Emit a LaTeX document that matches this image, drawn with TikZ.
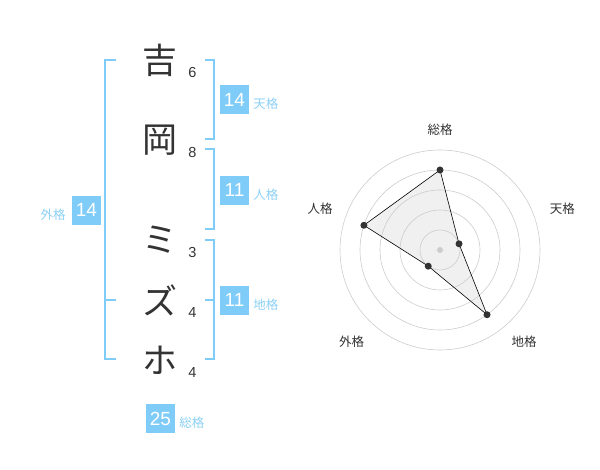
\documentclass[tikz,border=0pt]{standalone}
\usepackage{fontspec}
\setmainfont{Liberation Sans}
\newfontfamily\jfont{Noto Sans CJK JP}
\usetikzlibrary{positioning}
\definecolor{skyblue}{HTML}{80CCF8}
\definecolor{labelblue}{HTML}{8CD0F5}
\definecolor{inkgray}{HTML}{333333}
\definecolor{ringgray}{HTML}{CCCCCC}
\tikzset{
  kanji/.style={font=\jfont\fontsize{35}{35}\selectfont, text=inkgray, inner sep=0pt},
  strokes/.style={font=\fontsize{14.5}{14.5}\selectfont, text=inkgray, inner sep=0pt},
  bracket/.style={draw=skyblue, line width=2pt},
  kakubox/.style={fill=skyblue, text=white, minimum width=29pt, minimum height=29pt, inner sep=0pt, font=\fontsize{19}{19}\selectfont},
  kakulabel/.style={font=\jfont\fontsize{12.5}{12.5}\selectfont, text=labelblue, inner sep=0pt},
  axislabel/.style={font=\jfont\fontsize{12.5}{12.5}\selectfont, text=inkgray, inner sep=0pt},
  ring/.style={draw=ringgray, line width=0.6pt},
  vertex/.style={circle, fill=inkgray, inner sep=0pt, minimum size=7pt},
}
\begin{document}
\begin{tikzpicture}[x=1pt,y=1pt]
  \useasboundingbox (0,0) rectangle (600,470);
  % name and strokes
  \node (kichi) at (160,410) [kanji] {吉};
  \node (oka) at (160,329.5) [kanji] {岡};
  \node (mi) at (160,230) [kanji] {ミ};
  \node (zu) at (160,170) [kanji] {ズ};
  \node (ho) at (160,110) [kanji] {ホ};
  \node (kichi-n) at (192.3,397.7) [strokes] {6};
  \node (oka-n) at (192.3,317.3) [strokes] {8};
  \node (mi-n) at (192.3,217.7) [strokes] {3};
  \node (zu-n) at (192.3,157.7) [strokes] {4};
  \node (ho-n) at (192.3,97.7) [strokes] {4};
  % brackets
  \draw [bracket] (116,410) -- (105,410) -- (105,110.7) -- (116,110.7);
  \draw [bracket] (105,170) -- (116,170);
  \draw [bracket] (205,410) -- (214.3,410) -- (214.3,330.7) -- (205,330.7);
  \draw [bracket] (205,320.7) -- (214.3,320.7) -- (214.3,240.7) -- (205,240.7);
  \draw [bracket] (205,230) -- (214.3,230) -- (214.3,110.7) -- (205,110.7);
  \draw [bracket] (205,170) -- (214.3,170);
  % totals
  \node (tenbox) at (234.5,370) [kakubox] {14};
  \node (tenlabel) [kakulabel, right=4pt of tenbox, yshift=-4pt] {天格};
  \node (jinbox) at (234.5,279.7) [kakubox] {11};
  \node (jinlabel) [kakulabel, right=4pt of jinbox, yshift=-4pt] {人格};
  \node (chibox) at (234.5,169.7) [kakubox] {11};
  \node (chilabel) [kakulabel, right=4pt of chibox, yshift=-4pt] {地格};
  \node (gaibox) at (86.5,259.7) [kakubox] {14};
  \node (gailabel) [kakulabel, left=6pt of gaibox, yshift=-4pt] {外格};
  \node (soubox) at (160.5,51) [kakubox] {25};
  \node (soulabel) [kakulabel, right=4pt of soubox, yshift=-3.3pt] {総格};
  % radar chart
  \begin{scope}[shift={(440,220)}]
    \coordinate (sou) at (90:80);
    \coordinate (ten) at (18:20);
    \coordinate (chi) at (-54:80);
    \coordinate (gai) at (-126:20);
    \coordinate (jin) at (162:80);
    \fill [black, fill opacity=0.06] (sou) -- (ten) -- (chi) -- (gai) -- (jin) -- cycle;
    \foreach \r in {20,40,...,100}
      \draw [ring] (0,0) circle (\r);
    \fill [ringgray] (0,0) circle (3);
    \draw [black, line width=0.6pt] (sou) -- (ten) -- (chi) -- (gai) -- (jin) -- cycle;
    \foreach \p in {sou,ten,chi,gai,jin}
      \node (\p-dot) at (\p) [vertex] {};
    \node (souaxis) at (0,120) [axislabel] {総格};
    \node (tenaxis) at (122.3,41.7) [axislabel] {天格};
    \node (chiaxis) at (84,-91.7) [axislabel] {地格};
    \node (gaiaxis) at (-88.3,-91.7) [axislabel] {外格};
    \node (jinaxis) at (-120,41.7) [axislabel] {人格};
  \end{scope}
\end{tikzpicture}
\end{document}
